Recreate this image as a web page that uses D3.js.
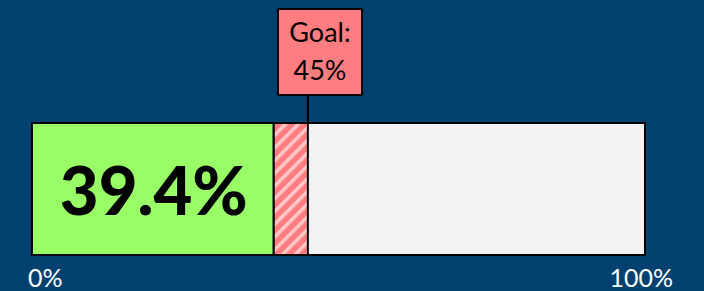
<!DOCTYPE html>
<html>
<head>
<meta charset="utf-8">
<script src="https://cdn.jsdelivr.net/npm/d3@7"></script>
<style>
  body { margin: 0; background: #00416f; }
  svg { display: block; }
</style>
</head>
<body>
<div id="chart"></div>
<script>
const actual = [39.4];
const goal = [45];
const domainTicks = [0, 100];
const tickLabels = ['0%', '100%'];

const width = 704;
const height = 291;
const margin = {left: 32, right: 59, top: 123, bottom: 36};

const x = d3.scaleLinear()
    .domain([domainTicks[0], domainTicks[1]])
    .range([margin.left, width - margin.right]);

const barTop = margin.top;
const barH = height - margin.top - margin.bottom;
const font = 'Lato, sans-serif';

const svg = d3.select('#chart').append('svg')
    .attr('width', width)
    .attr('height', height);

const defs = svg.append('defs');
const pat = defs.append('pattern')
    .attr('id', 'hatch')
    .attr('patternUnits', 'userSpaceOnUse')
    .attr('width', 9)
    .attr('height', 9)
    .attr('patternTransform', 'rotate(45)');
pat.append('rect').attr('width', 9).attr('height', 9).attr('fill', '#ff7c80');
pat.append('rect').attr('width', 3.5).attr('height', 9).attr('fill', '#ffc9c9');

// background track
svg.append('rect')
    .attr('x', x(0))
    .attr('y', barTop)
    .attr('width', x(100) - x(0))
    .attr('height', barH)
    .attr('fill', '#f2f2f2')
    .attr('stroke', '#000')
    .attr('stroke-width', 2);

// gap to goal
svg.append('rect')
    .attr('x', x(actual[0]))
    .attr('y', barTop)
    .attr('width', x(goal[0]) - x(actual[0]))
    .attr('height', barH)
    .attr('fill', 'url(#hatch)')
    .attr('stroke', '#000')
    .attr('stroke-width', 2);

// actual
svg.append('rect')
    .attr('x', x(0))
    .attr('y', barTop)
    .attr('width', x(actual[0]) - x(0))
    .attr('height', barH)
    .attr('fill', '#99ff66')
    .attr('stroke', '#000')
    .attr('stroke-width', 2);

svg.append('text')
    .attr('x', (x(0) + x(actual[0])) / 2 + 1)
    .attr('y', 215)
    .attr('text-anchor', 'middle')
    .attr('font-family', font)
    .attr('font-weight', 900)
    .attr('font-size', 67)
    .attr('fill', '#000')
    .text(actual[0].toFixed(1) + '%');

// goal marker
const gx = x(goal[0]);
svg.append('line')
    .attr('x1', gx).attr('x2', gx)
    .attr('y1', 95).attr('y2', barTop)
    .attr('stroke', '#000')
    .attr('stroke-width', 2);

svg.append('rect')
    .attr('x', 278)
    .attr('y', 9)
    .attr('width', 84)
    .attr('height', 86)
    .attr('fill', '#ff7c80')
    .attr('stroke', '#000')
    .attr('stroke-width', 2);

const gt = svg.append('text')
    .attr('text-anchor', 'middle')
    .attr('font-family', font)
    .attr('font-size', 27)
    .attr('fill', '#000');
gt.append('tspan').attr('x', 320).attr('y', 42).text('Goal:');
gt.append('tspan').attr('x', 320).attr('y', 80).text(goal[0] + '%');

// axis end labels
svg.selectAll('.tick-label')
    .data(domainTicks)
    .enter()
    .append('text')
    .attr('class', 'tick-label')
    .attr('x', d => d === 0 ? x(d) - 4 : x(d) + 28)
    .attr('y', 287)
    .attr('text-anchor', d => d === 0 ? 'start' : 'end')
    .attr('font-family', font)
    .attr('font-size', 25)
    .attr('fill', '#fff')
    .text((d, i) => tickLabels[i]);
</script>
</body>
</html>
